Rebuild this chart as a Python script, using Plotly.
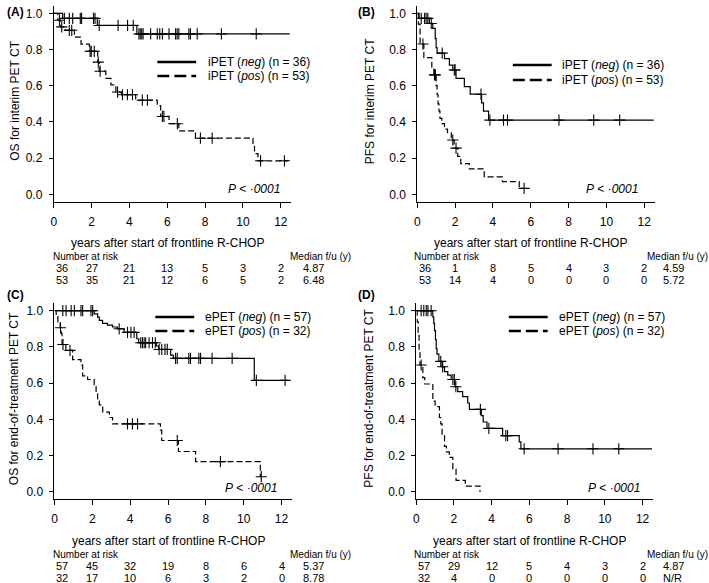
import numpy as np
import plotly.graph_objects as go

W, H = 709, 583
FONT = "Liberation Sans, Arial, sans-serif"

# ---------------- data ----------------
# Panel A: OS, interim PET
A_neg_t = [0, 0.47, 2.3, 4.39]
A_neg_s = [1.0, 0.972, 0.933, 0.886]
A_neg_cens = [0.56, 0.82, 1.0, 1.4, 1.47, 2.1, 2.18, 2.4, 3.4, 3.9, 4.2, 4.5, 4.57, 4.65, 4.72,
              5.12, 5.47, 5.6, 5.74, 6.09, 6.44, 6.52, 6.61, 7.14, 7.22, 7.58, 8.86, 10.7]
A_neg_end = 12.47
A_pos_t = [0, 0.21, 0.35, 0.6, 1.09, 1.44, 1.88, 2.32, 2.4, 2.75, 3.02, 3.28, 3.58, 4.33, 5.47,
           5.65, 6.09, 6.61, 7.49, 10.53, 10.61, 10.79]
A_pos_s = [1.0, 0.962, 0.925, 0.906, 0.868, 0.83, 0.79, 0.73, 0.68, 0.64, 0.605, 0.565, 0.55,
           0.52, 0.49, 0.43, 0.39, 0.35, 0.31, 0.265, 0.225, 0.185]
A_pos_cens = [0.3, 0.42, 0.82, 0.95, 1.92, 1.98, 2.14, 2.35, 2.45, 3.37, 3.63, 3.89, 4.16, 4.68,
              4.95, 5.74, 5.82, 6.53, 7.75, 8.37, 10.93, 12.19]
A_pos_end = 12.37

# Panel B: PFS, interim PET
B_neg_t = [0, 0.1, 0.64, 0.82, 0.95, 1.0, 1.05, 1.44, 1.7, 1.88, 2.05, 2.49, 2.8, 3.4, 3.5, 3.77]
B_neg_s = [1.0, 0.972, 0.944, 0.917, 0.86, 0.81, 0.78, 0.75, 0.714, 0.687, 0.64, 0.595, 0.553,
           0.505, 0.46, 0.41]
B_neg_cens = [0.21, 0.39, 0.47, 0.56, 0.74, 1.32, 1.96, 2.0, 3.37, 3.84, 4.56, 4.77, 7.49, 9.33, 10.7]
B_neg_end = 12.5
B_pos_t = [0, 0.05, 0.15, 0.35, 0.77, 0.88, 1.0, 1.05, 1.1, 1.15, 1.2, 1.3, 1.44, 1.6, 1.8, 1.95,
           2.14, 2.3, 2.75, 3.54, 4.5, 5.39]
B_pos_s = [1.0, 0.94, 0.83, 0.755, 0.69, 0.66, 0.6, 0.55, 0.5, 0.46, 0.42, 0.39, 0.36, 0.34, 0.30,
           0.255, 0.21, 0.17, 0.14, 0.096, 0.07, 0.033]
B_pos_cens = [0.3, 0.91, 0.96, 1.88, 2.05, 5.65]
B_pos_end = 5.65

# Panel C: OS, end-of-treatment PET
C_neg_t = [0, 2.1, 2.28, 2.37, 2.54, 2.8, 3.07, 3.33, 3.68, 4.35, 4.45, 5.38, 5.5, 6.14, 6.28, 10.56]
C_neg_s = [1.0, 0.982, 0.965, 0.947, 0.93, 0.92, 0.91, 0.9, 0.88, 0.845, 0.823, 0.805, 0.786,
           0.755, 0.737, 0.615]
C_neg_cens = [0.44, 0.61, 0.88, 1.05, 1.4, 1.49, 1.93, 2.02, 3.42, 3.86, 4.04, 4.21, 4.56, 4.65,
              4.74, 4.82, 5.0, 5.18, 5.33, 5.53, 5.67, 5.84, 5.96, 6.4, 6.49, 7.1, 7.19, 7.63, 7.72,
              8.33, 9.39, 10.67, 12.19]
C_neg_end = 12.37
C_pos_t = [0, 0.09, 0.18, 0.3, 0.35, 0.4, 0.6, 0.96, 1.4, 1.49, 1.75, 2.1, 2.2, 2.28, 2.37, 2.55,
           2.9, 3.07, 5.6, 5.67, 6.55, 7.46, 10.88]
C_pos_s = [1.0, 0.969, 0.938, 0.906, 0.875, 0.813, 0.781, 0.73, 0.70, 0.64, 0.62, 0.59, 0.54, 0.5,
           0.48, 0.44, 0.41, 0.375, 0.34, 0.283, 0.222, 0.166, 0.083]
C_pos_cens = [0.32, 0.45, 0.82, 3.86, 4.12, 4.39, 6.49, 8.77, 10.93]
C_pos_end = 10.95

# Panel D: PFS, end-of-treatment PET
D_neg_t = [0, 0.88, 0.93, 0.97, 1.02, 1.06, 1.1, 1.2, 1.37, 1.5, 1.67, 1.85, 2.05, 2.2, 2.46, 2.73,
           2.82, 3.45, 3.55, 3.75, 4.58, 5.46, 5.55]
D_neg_s = [1.0, 0.965, 0.93, 0.89, 0.84, 0.79, 0.76, 0.72, 0.69, 0.663, 0.644, 0.62, 0.58, 0.553,
           0.525, 0.49, 0.455, 0.42, 0.385, 0.35, 0.31, 0.275, 0.237]
D_neg_cens = [0.26, 0.4, 0.53, 0.62, 0.79, 1.3, 1.4, 1.94, 2.02, 2.1, 3.4, 3.85, 4.75, 4.84, 5.72,
              7.52, 9.37, 10.74]
D_neg_end = 12.5
D_pos_t = [0, 0.05, 0.1, 0.15, 0.2, 0.35, 0.45, 0.88, 1.0, 1.23, 1.3, 1.37, 1.5, 1.6, 1.75, 1.94,
           2.11, 2.6, 3.38]
D_pos_s = [1.0, 0.94, 0.875, 0.78, 0.70, 0.63, 0.595, 0.50, 0.47, 0.41, 0.375, 0.31, 0.25, 0.22,
           0.19, 0.125, 0.063, 0.031, 0.0]
D_pos_cens = [0.26]
D_pos_end = 3.38

# risk tables
risk_times = [0, 2, 4, 6, 8, 10, 12]
A_risk_neg = [36, 27, 21, 13, 5, 3, 2]
A_risk_pos = [53, 35, 21, 12, 6, 5, 2]
A_median = ["4.87", "6.48"]
B_risk_neg = [36, 1, 8, 5, 4, 3, 2]
B_risk_pos = [53, 14, 4, 0, 0, 0, 0]
B_median = ["4.59", "5.72"]
C_risk_neg = [57, 45, 32, 19, 8, 6, 4]
C_risk_pos = [32, 17, 10, 6, 3, 2, 0]
C_median = ["5.37", "8.78"]
D_risk_neg = [57, 29, 12, 5, 4, 3, 2]
D_risk_pos = [32, 4, 0, 0, 0, 0, 0]
D_median = ["4.87", "N/R"]

# labels
panel_letters = ["(A)", "(B)", "(C)", "(D)"]
y_titles = ["OS for interim PET CT", "PFS for interim PET CT",
            "OS for end-of-treatment PET CT", "PFS for end-of-treatment PET CT"]
legend_neg = ["iPET (<i>neg</i>) (n = 36)", "iPET (<i>neg</i>) (n = 36)",
              "ePET (<i>neg</i>) (n = 57)", "ePET (<i>neg</i>) (n = 57)"]
legend_pos = ["iPET (<i>pos</i>) (n = 53)", "iPET (<i>pos</i>) (n = 53)",
              "ePET (<i>pos</i>) (n = 32)", "ePET (<i>pos</i>) (n = 32)"]
x_title = "years after start of frontline R-CHOP"
p_text = "<i>P</i> &lt; <i>·0001</i>"

# ---------------- layout geometry (pixels) ----------------
XMAX = 12.55
panels = [
    dict(x0=51.0, ppy=19.0, y1=13.3, y0=194.3, ref="A", lab_x=2, lab_y=12, yt_x=12,
         leg_x=155, leg_tx=204, leg_y=(62, 76), nar_x=48, med_x=286, med_vx=299, p_x=12.05, p_y=0.03),
    dict(x0=416.0, ppy=19.0, y1=13.3, y0=194.3, ref="B", lab_x=354, lab_y=12, yt_x=368,
         leg_x=512, leg_tx=559, leg_y=(65, 80), nar_x=411, med_x=645, med_vx=661, p_x=11.8, p_y=0.03),
    dict(x0=51.7, ppy=19.0, y1=310.7, y0=491.7, ref="C", lab_x=2, lab_y=295, yt_x=11,
         leg_x=153, leg_tx=201, leg_y=(317, 331), nar_x=48, med_x=286, med_vx=299, p_x=11.87, p_y=0.02),
    dict(x0=415.0, ppy=18.94, y1=310.7, y0=491.7, ref="D", lab_x=354, lab_y=295, yt_x=368,
         leg_x=508, leg_tx=556, leg_y=(317, 331), nar_x=411, med_x=645, med_vx=661, p_x=11.97, p_y=0.02),
]
curves = {
    "A": [(A_neg_t, A_neg_s, A_neg_cens, A_neg_end), (A_pos_t, A_pos_s, A_pos_cens, A_pos_end)],
    "B": [(B_neg_t, B_neg_s, B_neg_cens, B_neg_end), (B_pos_t, B_pos_s, B_pos_cens, B_pos_end)],
    "C": [(C_neg_t, C_neg_s, C_neg_cens, C_neg_end), (C_pos_t, C_pos_s, C_pos_cens, C_pos_end)],
    "D": [(D_neg_t, D_neg_s, D_neg_cens, D_neg_end), (D_pos_t, D_pos_s, D_pos_cens, D_pos_end)],
}
risks = {"A": (A_risk_neg, A_risk_pos, A_median), "B": (B_risk_neg, B_risk_pos, B_median),
         "C": (C_risk_neg, C_risk_pos, C_median), "D": (D_risk_neg, D_risk_pos, D_median)}

def px(x):
    return x / W

def py(y):
    return 1 - y / H

fig = go.Figure()
annotations = []
shapes = []
dashes = ["solid", "6px,3px"]

for i, p in enumerate(panels):
    k = i + 1
    xa = "x" if k == 1 else f"x{k}"
    ya = "y" if k == 1 else f"y{k}"
    xkey = "xaxis" if k == 1 else f"xaxis{k}"
    ykey = "yaxis" if k == 1 else f"yaxis{k}"
    ppu = p["y0"] - p["y1"]
    ytop = p["y1"] - 0.04 * ppu
    ybot = p["y0"] + 0.04 * ppu
    xend = p["x0"] + XMAX * p["ppy"]
    fig.update_layout(**{
        xkey: dict(domain=[px(p["x0"]), px(xend)], range=[0, XMAX], anchor=ya,
                   showline=True, linecolor="black", linewidth=1, ticks="outside", ticklen=5,
                   tickwidth=1, tickcolor="black", tickvals=risk_times, showgrid=False,
                   zeroline=False, tickfont=dict(family=FONT, size=12, color="black"),
                   ticklabelstandoff=4),
        ykey: dict(domain=[py(ybot), py(ytop)], range=[-0.04, 1.04], anchor=xa,
                   showline=True, linecolor="black", linewidth=1, ticks="outside", ticklen=4,
                   tickwidth=1, tickcolor="black", tickvals=[0, 0.2, 0.4, 0.6, 0.8, 1.0],
                   tickformat=".1f", showgrid=False, zeroline=False,
                   tickfont=dict(family=FONT, size=12, color="black"), ticklabelstandoff=4),
    })
    for j, (t, s, cens, end) in enumerate(curves[p["ref"]]):
        xs = list(t) + [end]
        ys = list(s) + [s[-1]]
        fig.add_trace(go.Scatter(x=xs, y=ys, mode="lines", xaxis=xa, yaxis=ya,
                                 line=dict(color="black", width=1.2, shape="hv", dash=dashes[j]),
                                 showlegend=False, hoverinfo="skip"))
        tt = np.array(t)
        ss = np.array(s)
        idx = np.searchsorted(tt, np.array(cens), side="right") - 1
        fig.add_trace(go.Scatter(x=cens, y=ss[idx], mode="markers", xaxis=xa, yaxis=ya,
                                 marker=dict(symbol="cross-thin", size=8,
                                             line=dict(color="black", width=1.1)),
                                 showlegend=False, hoverinfo="skip"))
    # panel letter
    annotations.append(dict(text=f"<b>{panel_letters[i]}</b>", xref="paper", yref="paper",
                            x=px(p["lab_x"]), y=py(p["lab_y"]),
                            xanchor="left", yanchor="middle", showarrow=False,
                            font=dict(family=FONT, size=12, color="black")))
    # y title
    annotations.append(dict(text=y_titles[i], xref="paper", yref="paper",
                            x=px(p["yt_x"]), y=py((ytop + ybot) / 2 - 3), textangle=-90,
                            xanchor="center", yanchor="middle", showarrow=False,
                            font=dict(family=FONT, size=12, color="black")))
    # x title
    annotations.append(dict(text=x_title, xref=xa, yref="paper", x=6,
                            y=py(p["y1"] + 230), xanchor="center", yanchor="middle",
                            showarrow=False, font=dict(family=FONT, size=12, color="black")))
    # legend
    for j, (ly, lab) in enumerate(zip(p["leg_y"], [legend_neg[i], legend_pos[i]])):
        shapes.append(dict(type="line", xref="paper", yref="paper",
                           x0=px(p["leg_x"]), x1=px(p["leg_x"] + 39), y0=py(ly), y1=py(ly),
                           line=dict(color="black", width=2.6,
                                     dash="solid" if j == 0 else "12px,5px")))
        annotations.append(dict(text=lab, xref="paper", yref="paper", x=px(p["leg_tx"]),
                                y=py(ly), xanchor="left", yanchor="middle", showarrow=False,
                                font=dict(family=FONT, size=12, color="black")))
    # p value
    annotations.append(dict(text=p_text, xref=xa, yref=ya, x=p["p_x"], y=p["p_y"],
                            xanchor="right", yanchor="middle", showarrow=False,
                            font=dict(family=FONT, size=12, color="black")))
    # risk table
    rneg, rpos, med = risks[p["ref"]]
    base = p["y1"]
    annotations.append(dict(text="Number at risk", xref="paper", yref="paper", x=px(p["nar_x"]),
                            y=py(base + 243.5), xanchor="left", yanchor="middle", showarrow=False,
                            font=dict(family=FONT, size=10, color="black")))
    annotations.append(dict(text="Median f/u (y)", xref="paper", yref="paper", x=px(p["med_x"]),
                            y=py(base + 243.5), xanchor="left", yanchor="middle", showarrow=False,
                            font=dict(family=FONT, size=10, color="black")))
    for r, (vals, m) in enumerate(zip([rneg, rpos], med)):
        yrow = py(base + 255 + 12 * r)
        for tv, v in zip(risk_times, vals):
            annotations.append(dict(text=str(v), xref=xa, yref="paper", x=tv, y=yrow,
                                    xanchor="left" if tv == 0 else "center", yanchor="middle",
                                    showarrow=False,
                                    font=dict(family=FONT, size=11, color="black")))
        annotations.append(dict(text=m, xref="paper", yref="paper", x=px(p["med_vx"]), y=yrow,
                                xanchor="left", yanchor="middle", showarrow=False,
                                font=dict(family=FONT, size=11, color="black")))

fig.update_layout(width=W, height=H, autosize=False,
                  margin=dict(l=0, r=0, t=0, b=0),
                  paper_bgcolor="white", plot_bgcolor="white",
                  annotations=annotations, shapes=shapes,
                  font=dict(family=FONT, color="black"), showlegend=False)

fig.write_html("out.html", config={"displayModeBar": False},
               post_script="document.body.style.margin='0';document.body.style.overflow='hidden';")
